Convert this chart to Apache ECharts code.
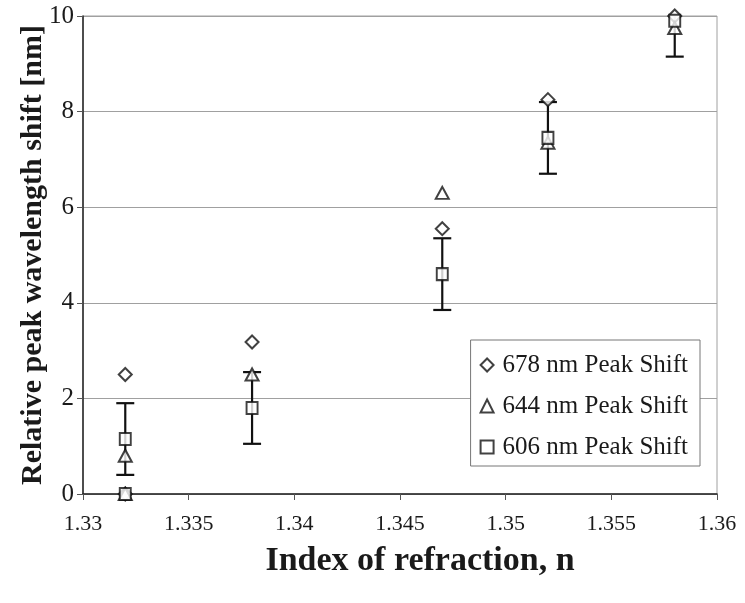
<!DOCTYPE html>
<html>
<head>
<meta charset="utf-8">
<script src="https://cdn.jsdelivr.net/npm/echarts@6/dist/echarts.min.js"></script>
<style>
  html, body { margin: 0; padding: 0; background: #fff; }
  #chart { width: 745px; height: 603px; }
</style>
</head>
<body>
<div id="chart"></div>
<script>
// Refractive index of each sample (two readings at the reference index)
const refractiveIndex = [1.332, 1.332, 1.338, 1.347, 1.352, 1.358];

// Relative peak shifts [nm] for each resonance
const shift678 = [0, 2.5, 3.18, 5.55, 8.25, 10.0];
const shift644 = [0, 0.8, 2.5, 6.3, 7.35, 9.75];
const shift606 = [0, 1.15, 1.8, 4.6, 7.45, 9.9];

// Uncertainty (+/-) on the 606 nm shift; null = no bar drawn
const err606 = [null, 0.75, 0.75, 0.75, 0.75, 0.75];

const seriesNames = ['678 nm Peak Shift', '644 nm Peak Shift', '606 nm Peak Shift'];
const xTicks = [1.33, 1.335, 1.34, 1.345, 1.35, 1.355, 1.36];

const serif = '"Liberation Serif", "Times New Roman", serif';

function pairs(values) {
  return refractiveIndex.map((x, i) => [x, values[i]]);
}

const errorData = [];
refractiveIndex.forEach((x, i) => {
  if (err606[i] != null) {
    errorData.push([x, shift606[i] - err606[i], shift606[i] + err606[i]]);
  }
});

const markerStyle = { color: '#fff', borderColor: '#111', borderWidth: 2 };

const chart = echarts.init(document.getElementById('chart'));
chart.setOption({
  animation: false,
  backgroundColor: '#fff',
  grid: {
    left: 83, right: 28, top: 16, bottom: 109,
    show: true, borderColor: '#a0a0a0', borderWidth: 1
  },
  legend: {
    right: 45, top: 340,
    orient: 'vertical',
    data: seriesNames,
    itemWidth: 13, itemHeight: 13, itemGap: 13,
    padding: [11, 12, 5, 9],
    borderColor: '#777', borderWidth: 1,
    backgroundColor: '#fff',
    textStyle: { fontFamily: serif, fontSize: 25, lineHeight: 28, color: '#1a1a1a', padding: [0, 0, 0, 4] }
  },
  xAxis: {
    type: 'value',
    min: 1.33, max: 1.36, interval: 0.005,
    name: 'Index of refraction, n',
    nameLocation: 'middle', nameGap: 50,
    nameTextStyle: { fontFamily: serif, fontSize: 34, fontWeight: 'bold', color: '#1a1a1a', padding: [0, 0, 0, 40] },
    axisLine: { show: true, onZero: false, lineStyle: { color: '#222', width: 1.5 } },
    axisTick: { show: true, inside: false, length: 6, lineStyle: { color: '#555' } },
    axisLabel: {
      fontFamily: serif, fontSize: 22, color: '#1a1a1a', margin: 19,
      formatter: v => {
        const hit = xTicks.find(t => Math.abs(t - v) < 1e-9);
        return hit != null ? String(hit) : '';
      }
    },
    splitLine: { show: false }
  },
  yAxis: {
    type: 'value',
    min: 0, max: 10, interval: 2,
    name: 'Relative peak wavelength shift [nm]',
    nameLocation: 'middle', nameGap: 35,
    nameMoveOverlap: false,
    nameTextStyle: { fontFamily: serif, fontSize: 30, fontWeight: 'bold', color: '#1a1a1a' },
    axisLine: { show: true, lineStyle: { color: '#222', width: 1.5 } },
    axisTick: { show: true, inside: false, length: 6, lineStyle: { color: '#555' } },
    axisLabel: { fontFamily: serif, fontSize: 25, color: '#1a1a1a', margin: 9 },
    splitLine: { show: true, lineStyle: { color: '#a0a0a0', width: 1 } }
  },
  series: [
    {
      type: 'custom',
      name: 'err606',
      clip: true,
      z: 3,
      data: errorData,
      renderItem: function (params, api) {
        const x = api.value(0);
        const top = api.coord([x, api.value(2)]);
        const bot = api.coord([x, api.value(1)]);
        const cap = 9;
        const style = { stroke: '#111', lineWidth: 2.2 };
        return {
          type: 'group',
          children: [
            { type: 'line', shape: { x1: top[0], y1: top[1], x2: bot[0], y2: bot[1] }, style },
            { type: 'line', shape: { x1: top[0] - cap, y1: top[1], x2: top[0] + cap, y2: top[1] }, style },
            { type: 'line', shape: { x1: bot[0] - cap, y1: bot[1], x2: bot[0] + cap, y2: bot[1] }, style }
          ]
        };
      }
    },
    {
      type: 'scatter', name: seriesNames[0], data: pairs(shift678),
      symbol: 'diamond', symbolSize: [13, 13], itemStyle: markerStyle, z: 5, clip: false
    },
    {
      type: 'scatter', name: seriesNames[1], data: pairs(shift644),
      symbol: 'triangle', symbolSize: [13, 12], itemStyle: markerStyle, z: 5, clip: false
    },
    {
      type: 'scatter', name: seriesNames[2], data: pairs(shift606),
      symbol: 'rect', symbolSize: [11, 12], itemStyle: markerStyle, z: 5, clip: false
    }
  ]
});
</script>
</body>
</html>
